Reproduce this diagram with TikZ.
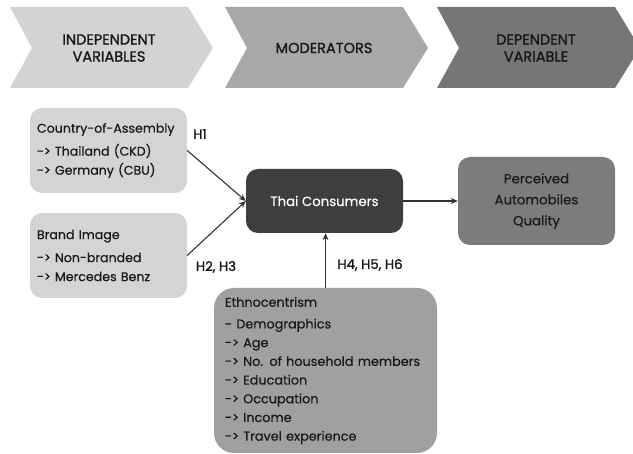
\documentclass[tikz,border=0pt]{standalone}
\usepackage{fontspec}
\setmainfont{Poppins}[FakeBold=0.5]
\newfontfamily\heavyfont{Poppins}[FakeBold=1.4]
\usetikzlibrary{arrows.meta}
\definecolor{stageA}{RGB}{211,211,211}
\definecolor{stageB}{RGB}{168,168,168}
\definecolor{stageC}{RGB}{118,118,118}
\definecolor{boxlight}{RGB}{212,212,212}
\definecolor{boxdark}{RGB}{62,62,62}
\definecolor{boxmid}{RGB}{124,124,124}
\definecolor{boxethno}{RGB}{160,160,160}
\definecolor{linkgray}{RGB}{50,50,50}
\tikzset{
  stagetxt/.style={font=\heavyfont\fontsize{14.5}{17}\selectfont, align=center, inner sep=0pt, text=black!90},
  varbox/.style={
    rounded corners=12pt,
    fill=boxlight,
    minimum height=85pt,
    inner xsep=7pt,
    text width=143pt,
    align=left,
    font=\fontsize{12.6}{19}\selectfont,
    text=black!90
  },
  thaibox/.style={rounded corners=12pt, fill=boxdark, minimum width=157pt, minimum height=64pt,
    font=\fontsize{13.3}{15}\selectfont, text=white},
  qualbox/.style={rounded corners=12pt, fill=boxmid, minimum width=157pt, minimum height=88pt,
    align=center, font=\fontsize{13.3}{21}\selectfont, text=black!90},
  ethnobox/.style={rounded corners=20pt, fill=boxethno, minimum height=165pt, inner xsep=11pt,
    text width=201pt, align=left, font=\fontsize{12.8}{18.7}\selectfont, text=black!90},
  hyp/.style={font=\heavyfont\fontsize{13.3}{15}\selectfont, inner sep=0pt, text=black!90},
  link/.style={draw=linkgray, line width=1.1pt, -{Stealth[length=7pt,width=6pt]}},
}
% one chevron of the header row: name, x shift, fill, label
\newcommand{\StageArrow}[4]{%
  \begin{scope}[xshift=#2]
    \fill[#3] (10,7) -- (188,7) -- (213,48) -- (188,88) -- (10,88) -- (32,48) -- cycle;
    \node[stagetxt] (#1) at (109,48) {#4};
  \end{scope}
}

\begin{document}
\begin{tikzpicture}[x=1pt,y=-1pt]
  \useasboundingbox (0,0) rectangle (633,454);
  \StageArrow{indep}{0pt}{stageA}{INDEPENDENT\\VARIABLES}
  \StageArrow{moder}{215pt}{stageB}{MODERATORS}
  \StageArrow{depen}{427pt}{stageC}{DEPENDENT\\VARIABLE}

  \node[varbox] (country) at (108.5,150.5)
    {Country-of-Assembly\\[4pt]-> Thailand (CKD)\\-> Germany (CBU)};
  \node[varbox] (brand) at (108.5,255.5)
    {Brand Image\\[4pt]-> Non-branded\\-> Mercedes Benz};
  \node[thaibox] (thai) at (324.5,201) {Thai Consumers};
  \node[qualbox] (quality) at (536.5,201) {Perceived\\Automobiles\\Quality};
  \node[ethnobox] (ethno) at (325.5,370.5)
    {Ethnocentrism\\[3pt]- Demographics\\-> Age\\-> No. of household members\\-> Education\\-> Occupation\\-> Income\\-> Travel experience};

  \draw[link] (country.east) -- (thai.west);
  \draw[link] (brand.east) -- (thai.west);
  \draw[link] (thai.east) -- (quality.west);
  \draw[link] (ethno.north) -- (ethno.north |- thai.south);

  \node[hyp] (h1) at (200,134) {H1};
  \node[hyp] (h23) at (216,267) {H2, H3};
  \node[hyp] (h456) at (370,265) {H4, H5, H6};
\end{tikzpicture}
\end{document}
